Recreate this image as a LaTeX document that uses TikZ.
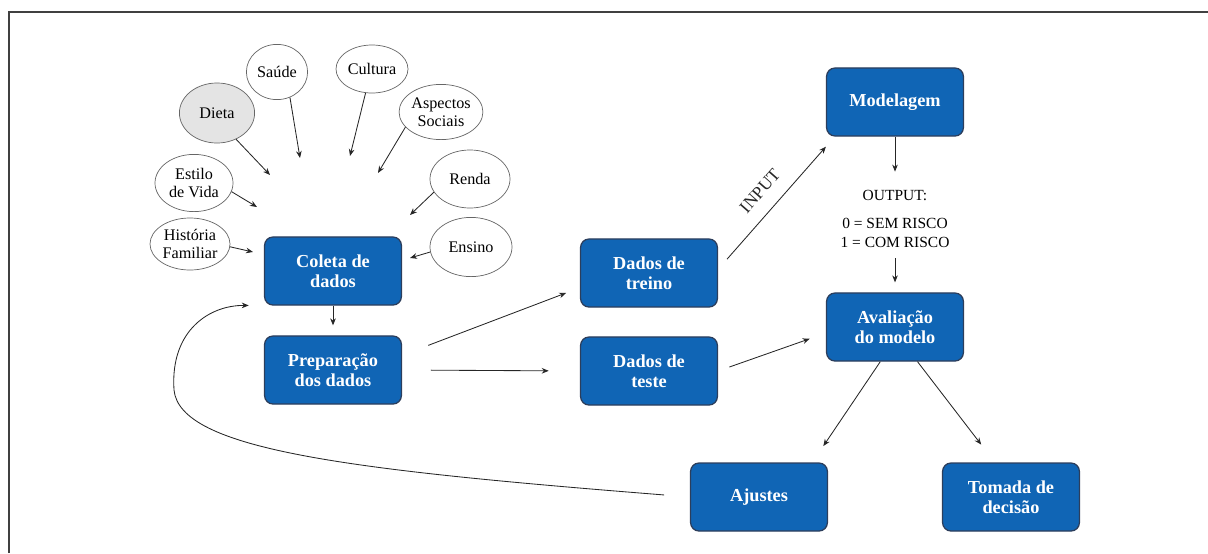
\documentclass[tikz,border=0pt]{standalone}
\usepackage{fontspec}
\setmainfont{Liberation Serif}
\usetikzlibrary{shapes.geometric,arrows.meta}

\definecolor{boxblue}{RGB}{16,101,181}
\definecolor{boxline}{RGB}{44,62,92}
\definecolor{dietagray}{RGB}{228,228,228}

\begin{document}
\begin{tikzpicture}
    [x=0.025cm, y=-0.025cm, >={Stealth[length=5pt,width=4pt]},
     bubble/.style={ellipse,draw=black!60,line width=0.5pt,inner sep=0pt,align=center,
                    font=\fontsize{11.5}{13}\selectfont},
     block/.style={rectangle,rounded corners=6pt,draw=boxline,line width=0.9pt,fill=boxblue,
                   text=white,inner sep=0pt,minimum width=3.42cm,minimum height=1.7cm,
                   align=center,font=\fontsize{13}{14.5}\selectfont\bfseries},
     link/.style={->,black!85,line width=0.6pt}]

    \useasboundingbox (0,0) rectangle (1208,553);

    % frame:
    \draw [black!75,line width=0.9pt] (9,553) -- (9,12) -- (1208,12);

    % factors around the data collection:
    \node (saude) at (277, 72) [bubble,minimum width=1.53cm,minimum height=1.38cm] {Saúde};
    \node (cultura) at (372, 69) [bubble,minimum width=1.8cm,minimum height=1.2cm] {Cultura};
    \node (aspectos) at (441, 112) [bubble,minimum width=1.95cm,minimum height=1.38cm] {Aspectos\\Sociais};
    \node (dieta) at (217, 113) [bubble,fill=dietagray,minimum width=1.88cm,minimum height=1.5cm] {Dieta};
    \node (estilo) at (194, 183) [bubble,minimum width=1.95cm,minimum height=1.43cm] {Estilo\\de Vida};
    \node (renda) at (470, 179) [bubble,minimum width=2cm,minimum height=1.45cm] {Renda};
    \node (historia) at (190, 244) [bubble,minimum width=2cm,minimum height=1.3cm] {História\\Familiar};
    \node (ensino) at (471, 247) [bubble,minimum width=2.05cm,minimum height=1.48cm] {Ensino};

    % loose arrow ends:
    \coordinate (inSaude) at (300, 158);
    \coordinate (inCultura) at (350, 156);
    \coordinate (inAspectos) at (378, 173);
    \coordinate (inDieta) at (270, 175);
    \coordinate (inEstilo) at (257, 207);
    \coordinate (inRenda) at (410, 215);
    \coordinate (inHistoria) at (253, 252);
    \coordinate (inEnsino) at (410, 258);

    % process steps:
    \node (coleta) at (333, 271) [block] {Coleta de\\dados};
    \node (prep) at (333, 370) [block] {Preparação\\dos dados};
    \node (treino) at (649, 273) [block] {Dados de\\treino};
    \node (teste) at (649, 371) [block] {Dados de\\teste};
    \node (model) at (895, 102) [block] {Modelagem};
    \node (aval) at (895, 327) [block] {Avaliação\\do modelo};
    \node (ajustes) at (759, 497) [block] {Ajustes};
    \node (tomada) at (1011, 497) [block] {Tomada de\\decisão};

    % output of the model:
    \node (output) at (895, 219) [inner sep=0pt,align=center,font=\fontsize{11}{13.5}\selectfont]
        {OUTPUT:\\[7pt]0 = SEM RISCO\\1 = COM RISCO};

    % connect nodes:

    \draw [link] (saude.-63) to (inSaude);
    \draw [link] (cultura.-105) to (inCultura);
    \draw [link] (aspectos.-157) to (inAspectos);
    \draw [link] (dieta.-54) to (inDieta);
    \draw [link] (estilo.-13) to (inEstilo);
    \draw [link] (renda.-160) to (inRenda);
    \draw [link] (historia.-4) to (inHistoria);
    \draw [link] (ensino.-173) to (inEnsino);

    \draw [link,shorten >=0.25cm] (coleta.south) to (prep.north);
    \draw [link,shorten <=0.7cm,shorten >=0.37cm] (prep.12) to (treino.-168);
    \draw [link,shorten <=0.72cm,shorten >=0.78cm] (prep.east) to (teste.west);
    \draw [link,shorten <=0.34cm] (treino.3) to
        node [pos=0.53,sloped,above=10pt,inner sep=0pt,font=\fontsize{12.5}{14}\selectfont] {INPUT}
        ([yshift=-0.25cm]model.south west);
    \draw [link,shorten <=0.3cm,shorten >=0.43cm] (teste.east) to (aval.-175);
    \draw [link,shorten >=0.45cm] (model.south) to (output.north);
    \draw [link,shorten <=0.25cm,shorten >=0.25cm] (output.south) to (aval.north);
    \draw [link,shorten >=0.49cm] (aval.-113) to (ajustes.33);
    \draw [link,shorten >=0.56cm] (aval.-57) to (tomada.115);
    \draw [link,shorten <=0.65cm,shorten >=0.38cm] (ajustes.west)
        .. controls (350, 470) and (180, 450) .. (174, 390)
        .. controls (170, 330) and (210, 305) .. (coleta.south west);

  \end{tikzpicture}
\end{document}
